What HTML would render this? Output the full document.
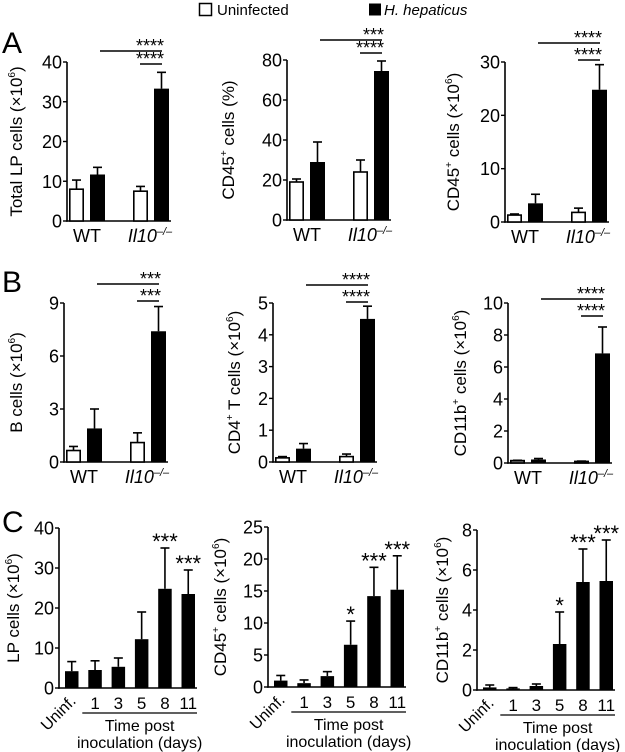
<!DOCTYPE html>
<html><head><meta charset="utf-8">
<style>
html,body{margin:0;padding:0;background:#fff;}
svg{display:block;font-family:"Liberation Sans",Arial,sans-serif;}
</style></head>
<body>
<svg id="fig" width="625" height="752" viewBox="0 0 625 752" xmlns="http://www.w3.org/2000/svg">
  <g>
    <rect x="199.5" y="3.5" width="12" height="12" fill="#fff" stroke="#000" stroke-width="1.5"/>
    <text x="217" y="15" font-size="15">Uninfected</text>
    <rect x="369" y="3.5" width="12" height="12" fill="#000"/>
    <text x="384" y="15" font-size="15" font-style="italic">H. hepaticus</text>
  </g>
  <text x="2" y="53" font-size="30">A</text>
  <text x="2" y="292" font-size="30">B</text>
  <text x="2" y="532" font-size="30">C</text>
</svg>
<script>
// ---- Panel A/B data: [WT uninf, WT Hh, Il10 uninf, Il10 Hh]
const groupCats = ["WT", "Il10"];
const a1Values = [8, 11.7, 7.5, 33.3];
const a1Errors = [10.3, 13.5, 8.7, 37.4];
const a1Ticks = [0, 10, 20, 30, 40];
const a2Values = [19, 29, 24, 74.5];
const a2Errors = [20.5, 39, 30, 79.5];
const a2Ticks = [0, 20, 40, 60, 80];
const a3Values = [1.3, 3.5, 1.8, 24.8];
const a3Errors = [1.5, 5.2, 2.6, 29.5];
const a3Ticks = [0, 10, 20, 30];
const b1Values = [0.65, 1.9, 1.1, 7.4];
const b1Errors = [0.88, 3.0, 1.65, 8.8];
const b1Ticks = [0, 3, 6, 9];
const b2Values = [0.13, 0.42, 0.17, 4.5];
const b2Errors = [0.17, 0.58, 0.25, 4.9];
const b2Ticks = [0, 1, 2, 3, 4, 5];
const b3Values = [0.15, 0.22, 0.1, 6.85];
const b3Errors = [0.17, 0.28, 0.12, 8.5];
const b3Ticks = [0, 2, 4, 6, 8, 10];
// ---- Panel C data
const dayCats = ["Uninf.", "1", "3", "5", "8", "11"];
const c1Values = [4.2, 4.5, 5.3, 12.2, 24.8, 23.5];
const c1Errors = [6.6, 6.8, 7.5, 19, 35, 29.5];
const c1Stars = ["", "", "", "", "***", "***"];
const c1Ticks = [0, 10, 20, 30, 40];
const c2Values = [1.0, 0.6, 1.7, 6.6, 14.2, 15.2];
const c2Errors = [1.8, 1.1, 2.4, 10.3, 18.7, 20.5];
const c2Stars = ["", "", "", "*", "***", "***"];
const c2Ticks = [0, 5, 10, 15, 20, 25];
const c3Values = [0.13, 0.08, 0.2, 2.3, 5.4, 5.45];
const c3Errors = [0.25, 0.12, 0.3, 3.9, 7.05, 7.5];
const c3Stars = ["", "", "", "*", "***", "***"];
const c3Ticks = [0, 2, 4, 6, 8];

const NS = "http://www.w3.org/2000/svg";
const svg = document.getElementById("fig");
function mk(tag, attrs, parent) {
  const e = document.createElementNS(NS, tag);
  for (const k in attrs) e.setAttribute(k, attrs[k]);
  (parent || svg).appendChild(e);
  return e;
}

function drawAxis(g, ax, yTop, yBot, ticks, xEnd, label, labelX, yScale) {
  const axis = mk("line", {x1: ax, y1: yTop, x2: ax, y2: yBot + 0.75, stroke: "#000", "stroke-width": 1.6}, g);
  
  
  const base = mk("line", {x1: ax - 0.8, y1: yBot, x2: xEnd, y2: yBot, stroke: "#000", "stroke-width": 1.6}, g);
  
  
  ticks.forEach(t => {
    const y = yScale(t);
    const tk = mk("line", {x1: ax - 4, y1: y, x2: ax, y2: y, stroke: "#000", "stroke-width": 1.4}, g);
    
    
    const tl = mk("text", {x: ax - 5, y: y + 6.5, "font-size": 18, "text-anchor": "end"}, g);
    tl.textContent = String(t);
    
    
  });
  const midY = (yTop + yBot) / 2;
  const yl = mk("text", {x: labelX, y: midY, "font-size": 17, "text-anchor": "middle", transform: `rotate(-90 ${labelX} ${midY})`}, g);
  
  
  label.forEach(p => {
    const ts = mk("tspan", p.sup ? {"font-size": 10, dy: -7} : (p.after ? {dy: 7} : {}), yl);
    ts.textContent = p.t;
  });
}

function groupChart(name, cfg, values, errors, ticks) {
  const g = mk("g", {});
  
  
  const yMax = ticks[ticks.length - 1];
  const yScale = v => cfg.yBot - (v / yMax) * (cfg.yBot - cfg.yTop);
  const bw = 15;
  const offs = [2, 23, 66, 87];
  const xEnd = cfg.ax + offs[3] + bw + 2;
  drawAxis(g, cfg.ax, cfg.yTop, cfg.yBot, ticks, xEnd, cfg.label, cfg.labelX, yScale);
  values.forEach((v, i) => {
    const x = cfg.ax + offs[i];
    const y = yScale(v);
    const filled = i % 2 === 1;
    const ey = yScale(errors[i]);
    const el = mk("line", {x1: x + bw / 2, y1: y, x2: x + bw / 2, y2: ey, stroke: "#000", "stroke-width": 1.6}, g);
    
    
    const cap = mk("line", {x1: x + bw / 2 - 4.5, y1: ey, x2: x + bw / 2 + 4.5, y2: ey, stroke: "#000", "stroke-width": 1.6}, g);
    
    
    const r = mk("rect", filled
      ? {x: x, y: y, width: bw, height: cfg.yBot - y, fill: "#000"}
      : {x: x + 0.8, y: y, width: bw - 1.6, height: cfg.yBot - y, fill: (cfg.grayWT && i === 0) ? "#888" : "#fff", stroke: "#000", "stroke-width": 1.6}, g);
    
    
  });
  const c0 = cfg.ax + (offs[0] + offs[1] + bw) / 2;
  const c1 = cfg.ax + (offs[2] + offs[3] + bw) / 2;
  const t0 = mk("text", {x: c0, y: cfg.yBot + 21, "font-size": 18, "text-anchor": "middle"}, g);
  t0.textContent = groupCats[0];
  
  
  const t1 = mk("text", {x: c1 - 1, y: cfg.yBot + 21, "font-size": 18, "text-anchor": "middle", "font-style": "italic"}, g);
  
  
  const s1 = mk("tspan", {}, t1); s1.textContent = groupCats[1];
  const s2 = mk("tspan", {"font-size": 11, dy: -7}, t1); s2.textContent = "–/–";
  [[cfg.longY, cfg.ax + 33, cfg.ax + 95, cfg.longStars], [cfg.shortY, cfg.ax + 73, cfg.ax + 95, cfg.shortStars]].forEach(s => {
    const ln = mk("line", {x1: s[1], y1: s[0], x2: s[2], y2: s[0], stroke: "#000", "stroke-width": 1.4}, g);
    
    
    const st = mk("text", {x: s[2] + 2, y: s[0] + 1, "font-size": 18, "text-anchor": "end"}, g);
    st.textContent = s[3];
    
    
  });
}

function dayChart(name, cfg, values, errors, stars, ticks) {
  const g = mk("g", {});
  
  
  const yMax = ticks[ticks.length - 1];
  const yScale = v => cfg.yBot - (v / yMax) * (cfg.yBot - cfg.yTop);
  const bw = 13.5, step = 23.3;
  const xAt = i => cfg.ax + 6 + i * step;
  const xEnd = xAt(dayCats.length - 1) + bw + 2;
  drawAxis(g, cfg.ax, cfg.yTop, cfg.yBot, ticks, xEnd, cfg.label, cfg.labelX, yScale);
  values.forEach((v, i) => {
    const x = xAt(i), y = yScale(v), ey = yScale(errors[i]);
    const el = mk("line", {x1: x + bw / 2, y1: y, x2: x + bw / 2, y2: ey, stroke: "#000", "stroke-width": 1.6}, g);
    
    
    const cap = mk("line", {x1: x + bw / 2 - 4.5, y1: ey, x2: x + bw / 2 + 4.5, y2: ey, stroke: "#000", "stroke-width": 1.6}, g);
    
    
    const r = mk("rect", {x: x, y: y, width: bw, height: cfg.yBot - y, fill: "#000"}, g);
    
    
    if (stars[i]) {
      const st = mk("text", {x: x + bw / 2, y: ey + 1, "font-size": 22, "text-anchor": "middle"}, g);
      st.textContent = stars[i];
      
      
    }
    const cx = x + bw / 2;
    if (i === 0) {
      const tl = mk("text", {x: cx + 5, y: cfg.yBot + 14, "font-size": 16, "text-anchor": "end", transform: `rotate(-45 ${cx + 5} ${cfg.yBot + 14})`}, g);
      tl.textContent = dayCats[i];
      
      
    } else {
      const tl = mk("text", {x: cx, y: cfg.yBot + 21, "font-size": 17, "text-anchor": "middle"}, g);
      tl.textContent = dayCats[i];
      
      
    }
  });
  const lx1 = xAt(1) - 6, lx2 = xAt(dayCats.length - 1) + bw + 2;
  const ul = mk("line", {x1: lx1, y1: cfg.yBot + 25, x2: lx2, y2: cfg.yBot + 25, stroke: "#000", "stroke-width": 1.2}, g);
  
  
  const mid = (lx1 + lx2) / 2;
  const x1 = mk("text", {x: mid, y: cfg.yBot + 43, "font-size": 16, "text-anchor": "middle"}, g);
  x1.textContent = "Time post";
  
  
  const x2 = mk("text", {x: mid, y: cfg.yBot + 60, "font-size": 16, "text-anchor": "middle"}, g);
  x2.textContent = "inoculation (days)";
  
  
}

const L = (pre, mid, post) => [{t: pre}, {t: mid, sup: true}, {t: post, after: true}];
const X6 = [{t: "(×10"}, {t: "6", sup: true}, {t: ")", after: true}];

groupChart("chart-a1-total-lp", {ax: 67, yTop: 62, yBot: 221, labelX: 22, longY: 51, shortY: 64, longStars: "****", shortStars: "****",
  label: [{t: "Total LP cells "}].concat(X6)}, a1Values, a1Errors, a1Ticks);
groupChart("chart-a2-cd45-pct", {ax: 287, yTop: 60, yBot: 220, labelX: 234, longY: 40, shortY: 53, longStars: "***", shortStars: "****",
  label: L("CD45", "+", " cells (%)")}, a2Values, a2Errors, a2Ticks);
groupChart("chart-a3-cd45-count", {ax: 505, yTop: 62, yBot: 222, labelX: 459, longY: 43, shortY: 60, longStars: "****", shortStars: "****",
  label: L("CD45", "+", " cells ").concat(X6)}, a3Values, a3Errors, a3Ticks);
groupChart("chart-b1-b-cells", {ax: 64, yTop: 303, yBot: 462, labelX: 22, longY: 284, shortY: 301, longStars: "***", shortStars: "***",
  label: [{t: "B cells "}].concat(X6)}, b1Values, b1Errors, b1Ticks);
groupChart("chart-b2-cd4-t-cells", {ax: 273, yTop: 303, yBot: 462, labelX: 240, longY: 285, shortY: 302, longStars: "****", shortStars: "****",
  label: L("CD4", "+", " T cells ").concat(X6)}, b2Values, b2Errors, b2Ticks);
groupChart("chart-b3-cd11b-cells", {ax: 508, yTop: 303, yBot: 463, labelX: 466, longY: 299, shortY: 316, longStars: "****", shortStars: "****", grayWT: true,
  label: L("CD11b", "+", " cells ").concat(X6)}, b3Values, b3Errors, b3Ticks);
dayChart("chart-c1-lp-cells", {ax: 59, yTop: 528, yBot: 688, labelX: 19,
  label: [{t: "LP cells "}].concat(X6)}, c1Values, c1Errors, c1Stars, c1Ticks);
dayChart("chart-c2-cd45-cells", {ax: 268, yTop: 527, yBot: 687, labelX: 226,
  label: L("CD45", "+", " cells ").concat(X6)}, c2Values, c2Errors, c2Stars, c2Ticks);
dayChart("chart-c3-cd11b-cells", {ax: 477, yTop: 530, yBot: 690, labelX: 448,
  label: L("CD11b", "+", " cells ").concat(X6)}, c3Values, c3Errors, c3Stars, c3Ticks);
</script>
</body></html>
